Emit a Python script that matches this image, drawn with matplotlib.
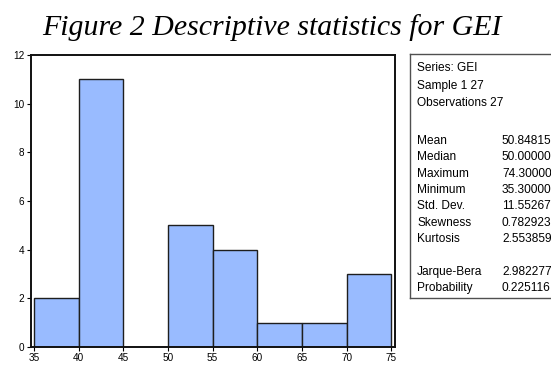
import numpy as np
import matplotlib
matplotlib.use('Agg')
import matplotlib.pyplot as plt
from matplotlib import font_manager

# histogram of GEI (bin edges and counts)
bin_edges = [35, 40, 45, 50, 55, 60, 65, 70, 75]
counts = [2, 11, 0, 5, 4, 1, 1, 3]

# summary statistics panel
header_lines = ['Series: GEI', 'Sample 1 27', 'Observations 27']
stat_names = ['Mean', 'Median', 'Maximum', 'Minimum', 'Std. Dev.', 'Skewness', 'Kurtosis']
stat_values = ['50.84815', '50.00000', '74.30000', '35.30000', '11.55267', '0.782923', '2.553859']
test_names = ['Jarque-Bera', 'Probability']
test_values = ['2.982277', '0.225116']

# a narrow sans if there is one, otherwise plain Liberation Sans a bit smaller
names = {f.name for f in font_manager.fontManager.ttflist}
if 'Liberation Sans Narrow' in names:
    narrow, box_size, tick_size = 'Liberation Sans Narrow', 10.5, 8.5
else:
    narrow, box_size, tick_size = 'Liberation Sans', 8.6, 7.2

fig = plt.figure(figsize=(5.51, 3.68), dpi=100)


def px(x, y):
    return x / 551, 1 - y / 368


fig.text(*px(272, 35), 'Figure 2 Descriptive statistics for GEI', ha='center', va='baseline',
         family='Liberation Serif', style='italic', fontsize=21.5)

ax = fig.add_axes([30.7 / 551, 21 / 368, (395 - 30.7) / 551, (347 - 55) / 368])
widths = np.diff(bin_edges)
ax.bar(bin_edges[:-1], counts, width=widths, align='edge', color='#99bbff',
       edgecolor='#1e1e1e', linewidth=1.0)
ax.set_xlim(34.65, 75.4)
ax.set_ylim(0, 12)
ax.set_xticks(bin_edges)
ax.set_yticks(range(0, 13, 2))
for s in ax.spines.values():
    s.set_linewidth(1.4)
    s.set_color('#111111')
ax.tick_params(direction='out', length=3, width=0.8, labelsize=tick_size, pad=1.5)
for lab in ax.get_xticklabels() + ax.get_yticklabels():
    lab.set_family(narrow)

# framed box with the statistics (runs off the right edge)
x0, y0 = px(410, 298)
tb = fig.add_axes([x0, y0, 0.3, (298 - 53.5) / 368])
tb.set_xticks([])
tb.set_yticks([])
for s in tb.spines.values():
    s.set_linewidth(1.0)
    s.set_color('#505050')

x_name, x_val = 417, 502
kw = dict(family=narrow, fontsize=box_size, va='center', ha='left')
for i, t in enumerate(header_lines):
    fig.text(*px(x_name, 68 + 17.5 * i), t, **kw)
for i, (n, v) in enumerate(zip(stat_names, stat_values)):
    y = 141 + 16.3 * i
    fig.text(*px(x_name, y), n, **kw)
    fig.text(*px(x_val, y), v, **kw)
for i, (n, v) in enumerate(zip(test_names, test_values)):
    y = 272 + 16 * i
    fig.text(*px(x_name, y), n, **kw)
    fig.text(*px(x_val, y), v, **kw)

fig.savefig('out.png', dpi=100)
